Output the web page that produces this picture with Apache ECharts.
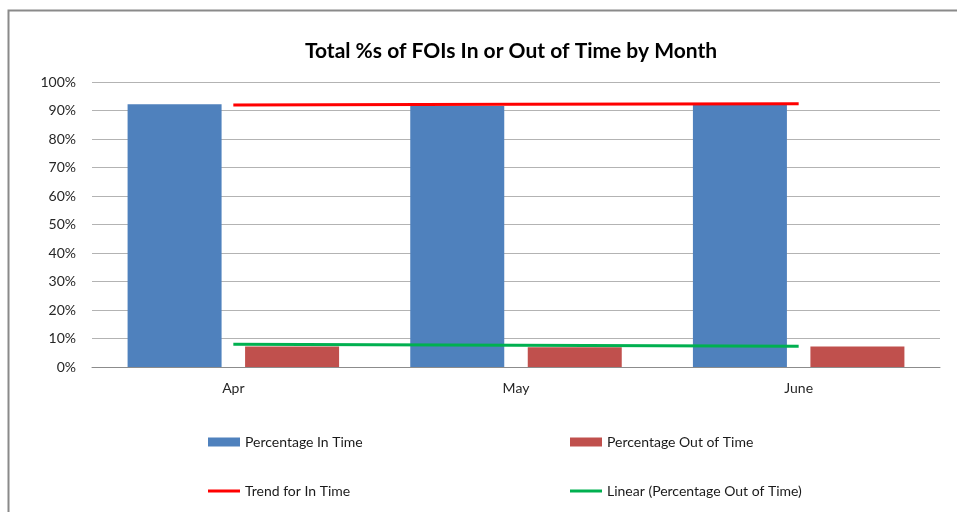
<!DOCTYPE html>
<html>
<head>
<meta charset="utf-8">
<title>Total %s of FOIs In or Out of Time by Month</title>
<script src="https://cdn.jsdelivr.net/npm/echarts@6/dist/echarts.min.js"></script>
<style>
    html, body { margin: 0; padding: 0; background: #fff; }
    #chart { width: 957px; height: 512px; }
</style>
</head>
<body>
<div id="chart"></div>
<script>
// data
const months = ['Apr', 'May', 'June'];
const pct_in_time = [92.2, 91.6, 91.9];
const pct_out_time = [7.2, 6.9, 7.2];
const trend_in_time = [91.9, 92.15, 92.4];
const trend_out_time = [8.0, 7.65, 7.3];
const y_ticks = [0, 10, 20, 30, 40, 50, 60, 70, 80, 90, 100];

const font = 'Lato, "Open Sans", sans-serif';

const chart = echarts.init(document.getElementById('chart'));

// one legend per entry so the 2x2 block sits like the excel one
const legend_item = (name, left, top, h) => ({
    left: left, top: top,
    itemWidth: 32, itemHeight: h,
    icon: 'rect',
    textStyle: { fontSize: 14, color: '#1a1a1a', fontFamily: font },
    data: [name]
});

const option = {
    animation: false,
    textStyle: { fontFamily: font },
    title: {
        text: 'Total %s of FOIs In or Out of Time by Month',
        left: 506,
        textAlign: 'center',
        top: 36,
        textStyle: { fontSize: 21, fontWeight: 'bold', color: '#000', fontFamily: font }
    },
    // border of the excel chart area (only top and left are in frame)
    graphic: [{
        type: 'polyline',
        shape: { points: [[8.5, 520], [8.5, 10.5], [960, 10.5]] },
        style: { stroke: '#8a8a8a', lineWidth: 2, fill: null },
        silent: true
    }],
    grid: { left: 92, right: 17, top: 82, bottom: 145 },
    legend: [
        legend_item('Percentage In Time', 203, 430, 9),
        legend_item('Percentage Out of Time', 565, 430, 9),
        legend_item('Trend for In Time', 203, 479, 3),
        legend_item('Linear (Percentage Out of Time)', 565, 479, 3)
    ],
    xAxis: {
        type: 'category',
        data: months,
        axisTick: { show: false },
        axisLine: { lineStyle: { color: '#8c8c8c', width: 1 } },
        axisLabel: { fontSize: 14, color: '#262626', margin: 14 }
    },
    yAxis: {
        type: 'value',
        min: y_ticks[0],
        max: y_ticks[y_ticks.length - 1],
        interval: 10,
        axisLine: { show: false },
        axisTick: { show: false },
        axisLabel: { fontSize: 14, color: '#262626', margin: 16, formatter: '{value}%' },
        splitLine: { lineStyle: { color: '#b3b3b3', width: 1 } }
    },
    series: [
        {
            name: 'Percentage In Time',
            type: 'bar',
            data: pct_in_time,
            barWidth: 94,
            barGap: '25%',
            itemStyle: { color: '#4F81BD' }
        },
        {
            name: 'Percentage Out of Time',
            type: 'bar',
            data: pct_out_time,
            barWidth: 94,
            barGap: '25%',
            itemStyle: { color: '#C0504D' }
        },
        {
            name: 'Trend for In Time',
            type: 'line',
            data: trend_in_time,
            symbol: 'none',
            z: 5,
            lineStyle: { color: '#FF0000', width: 3 },
            itemStyle: { color: '#FF0000' }
        },
        {
            name: 'Linear (Percentage Out of Time)',
            type: 'line',
            data: trend_out_time,
            symbol: 'none',
            z: 5,
            lineStyle: { color: '#00B050', width: 3 },
            itemStyle: { color: '#00B050' }
        }
    ]
};

chart.setOption(option);
</script>
</body>
</html>
